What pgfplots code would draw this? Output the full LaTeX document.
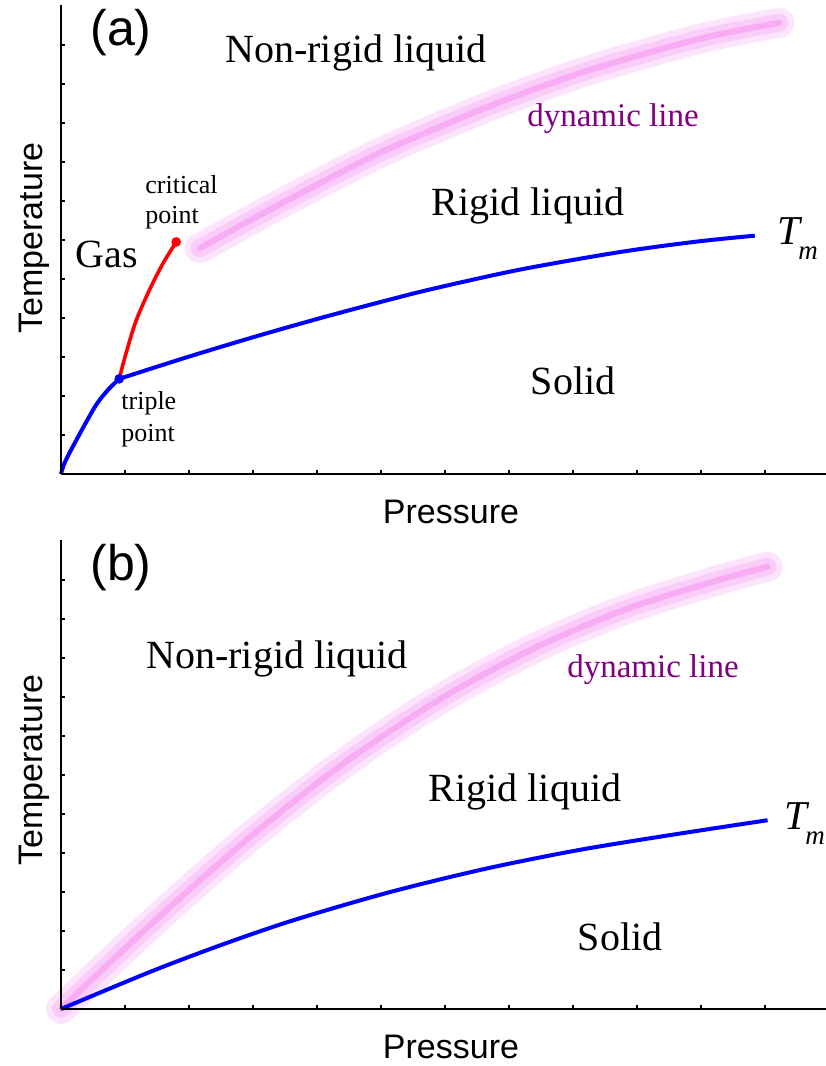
\documentclass[border=0pt]{standalone}
\usepackage{pgfplots}
\pgfplotsset{compat=1.18}
\usepackage{pgfplotstable}
\usepackage{fontspec}
\setmainfont{Liberation Serif}
\newfontfamily\arial{Liberation Sans}
\definecolor{pinkA}{RGB}{252,228,252}
\definecolor{pinkB}{RGB}{250,204,248}
\definecolor{pinkC}{RGB}{247,172,243}
\definecolor{dynpurple}{RGB}{128,0,128}
\definecolor{tmblue}{RGB}{0,0,255}
\definecolor{lgred}{RGB}{255,0,0}

% panel (a)
\pgfplotstableread{
x y
0 0
0.04 0.22
0.12 0.50
0.25 0.90
0.40 1.35
0.56 1.80
0.73 2.15
0.91 2.44
}\sublA
\pgfplotstableread{
x y
0.91 2.44
1.98 3.00
3.03 3.52
4.08 4.01
5.11 4.46
5.84 4.76
7.17 5.24
8.73 5.69
9.94 5.96
10.84 6.11
}\meltA
\pgfplotstableread{
x y
0.91 2.44
1.00 3.00
1.16 3.87
1.36 4.64
1.58 5.36
1.80 5.95
}\boilA
\pgfplotstableread{
x y
2.17 5.79
3.47 6.96
5.03 8.27
6.59 9.36
7.59 9.98
8.42 10.44
9.98 11.16
11.22 11.57
}\dynA
% panel (b)
\pgfplotstableread{
x y
0 0
1.39 0.95
2.50 1.64
3.62 2.27
5.10 2.98
6.59 3.58
8.07 4.07
9.56 4.47
11.04 4.84
}\meltB
\pgfplotstableread{
x y
0 0
1.39 2.15
2.88 4.31
4.36 6.23
5.84 7.86
7.33 9.20
8.81 10.24
10.30 11.01
11.04 11.34
}\dynB

\pgfplotsset{
  phase/.style={
    x=32pt, y=19.5pt,
    anchor=south west,
    xmin=0, xmax=11.97, ymin=0, ymax=12.03,
    axis lines=left,
    axis line style={-, line width=1pt, black},
    xtick={1,...,11}, ytick={1,...,11},
    xticklabels={}, yticklabels={},
    tick align=inside,
    major tick length=2pt,
    tick style={line width=0.6pt, black},
    clip=false,
    axis on top,
  },
  dynouter/.style={pinkA, line width=15pt, line cap=round, smooth},
  dynmid/.style={pinkB, line width=9pt, line cap=round, smooth},
  dyninner/.style={pinkC, line width=3pt, line cap=round, smooth},
}

\begin{document}
\begin{tikzpicture}
\path[use as bounding box] (0,0) rectangle (412.5pt,533pt);

% ---------- panel (a) ----------
\begin{axis}[phase, at={(30.5pt,296pt)}]
\addplot[dynouter] table {\dynA};
\addplot[dynmid] table {\dynA};
\addplot[dyninner] table {\dynA};
\addplot[lgred, line width=1.8pt, smooth] table {\boilA};
\addplot[tmblue, line width=2pt, smooth] table {\sublA};
\addplot[tmblue, line width=2pt, smooth] table {\meltA};
\addplot[only marks, mark=*, mark size=2.2pt, tmblue] coordinates {(0.91,2.44)};
\addplot[only marks, mark=*, mark size=2.2pt, lgred] coordinates {(1.80,5.95)};
\end{axis}

% ---------- panel (b) ----------
\begin{axis}[phase, at={(30.5pt,28.5pt)}]
\addplot[dynouter] table {\dynB};
\addplot[dynmid] table {\dynB};
\addplot[dyninner] table {\dynB};
\addplot[tmblue, line width=2pt, smooth] table {\meltB};
\end{axis}

% ---------- texts (pixel coordinates) ----------
\begin{scope}[x=0.5pt, y=-0.5pt, shift={(0pt,533pt)}]
\tikzset{
  big/.style={font={\fontsize{20pt}{24pt}\selectfont}},
  small/.style={font={\fontsize{13pt}{15pt}\selectfont}, inner sep=0pt},
  sans/.style={font={\arial\fontsize{17pt}{20pt}\selectfont}},
  panel/.style={font={\arial\fontsize{25pt}{30pt}\selectfont}},
  dyn/.style={font={\fontsize{16.5pt}{20pt}\selectfont}, text=dynpurple},
  Tbig/.style={font={\fontsize{20.5pt}{24pt}\selectfont\itshape}, inner sep=0pt},
  Tsub/.style={font={\fontsize{13.5pt}{16pt}\selectfont\itshape}, inner sep=0pt},
}
% (a)
\node[panel, anchor=base] at (121,46) {(a)};
\node[big, anchor=base] at (356,63) {Non-rigid liquid};
\node[dyn, anchor=base] at (613,127) {dynamic line};
\node[big, anchor=base] at (528,216) {Rigid liquid};
\node[big, anchor=base] at (107,268) {Gas};
\node[small, anchor=base west] at (145,194) {critical};
\node[small, anchor=base west] at (145,224) {point};
\node[small, anchor=base west] at (121,410) {triple};
\node[small, anchor=base west] at (121,442) {point};
\node[big, anchor=base] at (573,395) {Solid};
\node[Tbig, anchor=base west] at (777,245) {T};
\node[Tsub, anchor=base west] at (798,260) {m};
\node[sans, anchor=base, rotate=90] at (42,238) {Temperature};
\node[sans, anchor=base] at (451,524) {Pressure};
% (b)
\node[panel, anchor=base] at (121,581) {(b)};
\node[big, anchor=base] at (277,669) {Non-rigid liquid};
\node[dyn, anchor=base] at (653,678) {dynamic line};
\node[big, anchor=base] at (525,802) {Rigid liquid};
\node[big, anchor=base] at (620,951) {Solid};
\node[Tbig, anchor=base west] at (784,830) {T};
\node[Tsub, anchor=base west] at (805,845) {m};
\node[sans, anchor=base, rotate=90] at (42,770) {Temperature};
\node[sans, anchor=base] at (451,1059) {Pressure};
\end{scope}
\end{tikzpicture}
\end{document}
